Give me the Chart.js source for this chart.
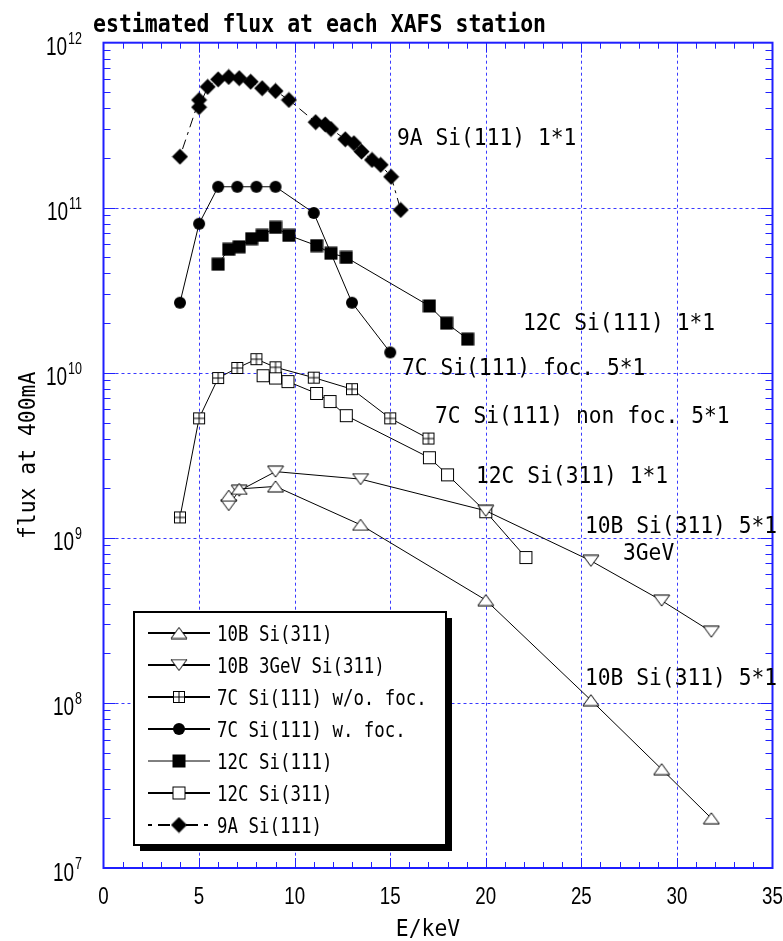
<!DOCTYPE html>
<html>
<head>
<meta charset="utf-8">
<script src="https://cdn.jsdelivr.net/npm/chart.js@4.4.0/dist/chart.umd.min.js"></script>
<style>
  html, body { margin: 0; padding: 0; background: #fff; }
  #wrap { width: 783px; height: 941px; position: relative; }
</style>
</head>
<body>
<div id="wrap"><canvas id="fluxChart"></canvas></div>
<script>
// values (E in keV, flux at 400mA)
const e9A   = [4, 5, 5, 5.45, 6, 6.55, 7.1, 7.7, 8.3, 9, 9.7, 11.1, 11.6, 11.9, 12.65, 13.1, 13.5, 14.05, 14.5, 15.05, 15.55];
const f9A   = [2.04e11, 4.5e11, 4.07e11, 5.4e11, 6.0e11, 6.2e11, 6.1e11, 5.8e11, 5.3e11, 5.1e11, 4.5e11, 3.3e11, 3.2e11, 3.0e11, 2.6e11, 2.46e11, 2.19e11, 1.95e11, 1.82e11, 1.54e11, 9.7e10];

const e7Cfoc = [4, 5, 6, 7, 8, 9, 11, 13, 15];
const f7Cfoc = [2.66e10, 8.0e10, 1.34e11, 1.34e11, 1.34e11, 1.34e11, 9.3e10, 2.66e10, 1.33e10];

const e12C111 = [6, 6.55, 7.1, 7.75, 8.3, 9, 9.7, 11.15, 11.9, 12.7, 17.05, 17.95, 19.05];
const f12C111 = [4.55e10, 5.6e10, 5.8e10, 6.5e10, 6.8e10, 7.6e10, 6.8e10, 5.9e10, 5.3e10, 5.0e10, 2.54e10, 2.0e10, 1.6e10];

const e7Cnon = [4, 5, 6, 7, 8, 9, 11, 13, 15, 17];
const f7Cnon = [1.33e9, 5.3e9, 9.3e9, 1.07e10, 1.21e10, 1.08e10, 9.35e9, 7.96e9, 5.3e9, 4.0e9];

const e12C311 = [8.35, 9, 9.65, 11.15, 11.85, 12.7, 17.05, 18, 20, 22.1];
const f12C311 = [9.6e9, 9.3e9, 8.85e9, 7.5e9, 6.7e9, 5.5e9, 3.06e9, 2.41e9, 1.44e9, 7.6e8];

const e10B3G = [6.55, 7.1, 9, 13.45, 20, 25.5, 29.2, 31.8];
const f10B3G = [1.58e9, 1.93e9, 2.52e9, 2.27e9, 1.46e9, 7.26e8, 4.17e8, 2.7e8];

const e10B = [6.55, 7.1, 9, 13.45, 20, 25.5, 29.2, 31.8];
const f10B = [1.8e9, 1.98e9, 2.05e9, 1.2e9, 4.2e8, 1.04e8, 3.97e7, 2.0e7];

const xTicks = [0, 5, 10, 15, 20, 25, 30, 35];
const yDecades = [7, 8, 9, 10, 11, 12];

const legendNames = ['10B Si(311)', '10B 3GeV Si(311)', '7C Si(111) w/o. foc.', '7C Si(111) w. foc.', '12C Si(111)', '12C Si(311)', '9A Si(111)'];

const notes = [
  ['9A Si(111) 1*1', 397, 137],
  ['12C Si(111) 1*1', 523, 322],
  ['7C Si(111) foc. 5*1', 402, 367],
  ['7C Si(111) non foc. 5*1', 435, 415],
  ['12C Si(311) 1*1', 476, 475],
  ['10B Si(311) 5*1', 585, 525],
  ['3GeV', 623, 552],
  ['10B Si(311) 5*1', 585, 677]
];

const MONO = '"DejaVu Sans Mono", monospace';
const SANS = '"Liberation Sans", Arial, sans-serif';
const BLUE = '#1f1fff';
const GRID = '#3a3aff';

// small canvases used as point markers
function makeMarker(kind) {
  const c = document.createElement('canvas');
  const g = c.getContext('2d');
  g.lineWidth = 1.2;
  g.strokeStyle = '#000';
  if (kind === 'up' || kind === 'down') {
    c.width = 18; c.height = 13;
    g.beginPath();
    if (kind === 'up') { g.moveTo(9, 1); g.lineTo(17, 12); g.lineTo(1, 12); }
    else { g.moveTo(1, 1); g.lineTo(17, 1); g.lineTo(9, 12); }
    g.closePath();
    g.fillStyle = '#fff'; g.fill(); g.stroke();
  } else if (kind === 'cross') {
    c.width = 14; c.height = 14;
    g.fillStyle = '#fff';
    g.fillRect(1.5, 1.5, 11, 11);
    g.strokeRect(1.5, 1.5, 11, 11);
    g.beginPath();
    g.moveTo(7, 1.5); g.lineTo(7, 12.5);
    g.moveTo(1.5, 7); g.lineTo(12.5, 7);
    g.stroke();
  } else if (kind === 'open') {
    c.width = 15; c.height = 15;
    g.fillStyle = '#fff';
    g.fillRect(1.5, 1.5, 12, 12);
    g.strokeRect(1.5, 1.5, 12, 12);
  } else if (kind === 'fill') {
    c.width = 14; c.height = 14;
    g.fillStyle = '#000';
    g.fillRect(0.5, 0.5, 13, 13);
  } else if (kind === 'dot') {
    c.width = 14; c.height = 14;
    g.fillStyle = '#000';
    g.beginPath(); g.arc(7, 7, 6, 0, Math.PI * 2); g.fill();
  } else if (kind === 'dia') {
    c.width = 17; c.height = 17;
    g.fillStyle = '#000';
    g.beginPath();
    g.moveTo(8.5, 0.5); g.lineTo(16.5, 8.5); g.lineTo(8.5, 16.5); g.lineTo(0.5, 8.5);
    g.closePath(); g.fill();
  }
  return c;
}

const mk = {
  up: makeMarker('up'), down: makeMarker('down'), cross: makeMarker('cross'),
  dot: makeMarker('dot'), fill: makeMarker('fill'), open: makeMarker('open'), dia: makeMarker('dia')
};

function pts(xs, ys) { return xs.map((x, i) => ({ x: x, y: ys[i] })); }

function series(label, xs, ys, marker, dash) {
  return {
    label: label,
    data: pts(xs, ys),
    borderColor: '#000',
    backgroundColor: '#000',
    borderWidth: 1,
    borderDash: dash || [],
    pointStyle: marker,
    pointRadius: 7,
    pointHoverRadius: 7,
    showLine: true,
    fill: false,
    tension: 0
  };
}

const legendMarkers = [mk.up, mk.down, mk.cross, mk.dot, mk.fill, mk.open, mk.dia];

// text drawn with a horizontal squeeze to get the narrow tall glyphs
function txt(ctx, s, x, y, font, sx, align) {
  ctx.save();
  ctx.font = font;
  ctx.fillStyle = '#000';
  ctx.textBaseline = 'alphabetic';
  ctx.translate(x, y);
  ctx.scale(sx, 1);
  ctx.textAlign = align || 'left';
  ctx.fillText(s, 0, 0);
  ctx.restore();
}

const framePlugin = {
  id: 'frame',
  beforeDatasetsDraw(chart) {
    const ctx = chart.ctx;
    const a = chart.chartArea;
    const xs = chart.scales.x, ys = chart.scales.y;
    ctx.save();
    // dotted grid
    ctx.strokeStyle = GRID;
    ctx.lineWidth = 1;
    ctx.setLineDash([3, 3]);
    ctx.beginPath();
    xTicks.slice(1, -1).forEach(v => {
      const px = Math.round(xs.getPixelForValue(v)) + 0.5;
      ctx.moveTo(px, a.top); ctx.lineTo(px, a.bottom);
    });
    yDecades.slice(1, -1).forEach(d => {
      const py = Math.round(ys.getPixelForValue(Math.pow(10, d))) + 0.5;
      ctx.moveTo(a.left, py); ctx.lineTo(a.right, py);
    });
    ctx.stroke();
    ctx.setLineDash([]);
    // inward ticks
    ctx.strokeStyle = BLUE;
    ctx.lineWidth = 1;
    ctx.beginPath();
    for (let v = 1; v < 35; v++) {
      const px = Math.round(xs.getPixelForValue(v)) + 0.5;
      const len = v % 5 === 0 ? 10 : 6;
      ctx.moveTo(px, a.top); ctx.lineTo(px, a.top + len);
      ctx.moveTo(px, a.bottom); ctx.lineTo(px, a.bottom - len);
    }
    for (let d = 7; d < 12; d++) {
      for (let m = 1; m < 10; m++) {
        const py = Math.round(ys.getPixelForValue(m * Math.pow(10, d))) + 0.5;
        const len = m === 1 ? 12 : 7;
        ctx.moveTo(a.left, py); ctx.lineTo(a.left + len, py);
        ctx.moveTo(a.right, py); ctx.lineTo(a.right - len, py);
      }
    }
    ctx.stroke();
    // frame
    ctx.lineWidth = 2;
    ctx.strokeRect(a.left, a.top, a.right - a.left, a.bottom - a.top);
    ctx.restore();
  },
  afterDraw(chart) {
    const ctx = chart.ctx;
    const a = chart.chartArea;
    const xs = chart.scales.x, ys = chart.scales.y;

    // title
    txt(ctx, 'estimated flux at each XAFS station', 93, 32, 'bold 25px ' + MONO, 0.86);

    // x tick labels
    xTicks.forEach(v => {
      txt(ctx, String(v), xs.getPixelForValue(v), 904, '24px ' + SANS, 0.78, 'center');
    });
    // y tick labels 10^n, exponent raised
    yDecades.forEach(d => {
      const py = ys.getPixelForValue(Math.pow(10, d));
      txt(ctx, String(d), 82, py + 1, '16px ' + SANS, 0.78, 'right');
      ctx.save();
      ctx.font = '16px ' + SANS;
      const w = ctx.measureText(String(d)).width * 0.78;
      ctx.restore();
      txt(ctx, '10', 82 - w - 1, py + 12.5, '25px ' + SANS, 0.76, 'right');
    });

    // axis titles
    txt(ctx, 'E/keV', 428, 936, '23px ' + MONO, 0.93, 'center');
    ctx.save();
    ctx.translate(35, (a.top + a.bottom) / 2);
    ctx.rotate(-Math.PI / 2);
    txt(ctx, 'flux at 400mA', 0, 0, '23px ' + MONO, 0.93, 'center');
    ctx.restore();

    // curve labels
    notes.forEach(n => txt(ctx, n[0], n[1], n[2] + 8.4, '23px ' + MONO, 0.925));

    // legend box with drop shadow
    const bx = 134, by = 612, bw = 312, bh = 233;
    ctx.save();
    ctx.fillStyle = '#000';
    ctx.fillRect(bx + 6, by + 6, bw, bh);
    ctx.fillStyle = '#fff';
    ctx.fillRect(bx, by, bw, bh);
    ctx.strokeStyle = '#000';
    ctx.lineWidth = 2;
    ctx.strokeRect(bx, by, bw, bh);
    legendNames.forEach((name, i) => {
      const ly = 633 + i * 32;
      ctx.beginPath();
      ctx.lineWidth = i === 4 ? 1 : 2;
      if (i === 6) ctx.setLineDash([4, 6, 12, 6]);
      ctx.moveTo(148, ly); ctx.lineTo(210, ly);
      ctx.stroke();
      ctx.setLineDash([]);
      const m = legendMarkers[i];
      ctx.drawImage(m, 179 - m.width / 2, ly - m.height / 2);
      txt(ctx, name, 217, ly + 7.5, '20.5px ' + MONO, 0.85);
    });
    ctx.restore();
  }
};

const ctx = document.getElementById('fluxChart').getContext('2d');
const fluxChart = new Chart(ctx, {
  type: 'line',
  data: {
    datasets: [
      series('10B Si(311)', e10B, f10B, mk.up),
      series('10B 3GeV Si(311)', e10B3G, f10B3G, mk.down),
      series('7C Si(111) w/o. foc.', e7Cnon, f7Cnon, mk.cross),
      series('7C Si(111) w. foc.', e7Cfoc, f7Cfoc, mk.dot),
      series('12C Si(111)', e12C111, f12C111, mk.fill),
      series('12C Si(311)', e12C311, f12C311, mk.open),
      series('9A Si(111)', e9A, f9A, mk.dia, [3, 5, 10, 5])
    ]
  },
  options: {
    responsive: true,
    maintainAspectRatio: false,
    animation: false,
    layout: { padding: { left: 103.5, right: 10.5, top: 42.7, bottom: 73 } },
    plugins: {
      legend: { display: false },
      tooltip: { enabled: false },
      title: { display: false }
    },
    scales: {
      x: { type: 'linear', min: 0, max: 35, display: false },
      y: { type: 'logarithmic', min: 1e7, max: 1e12, display: false }
    }
  },
  plugins: [framePlugin]
});
</script>
</body>
</html>
